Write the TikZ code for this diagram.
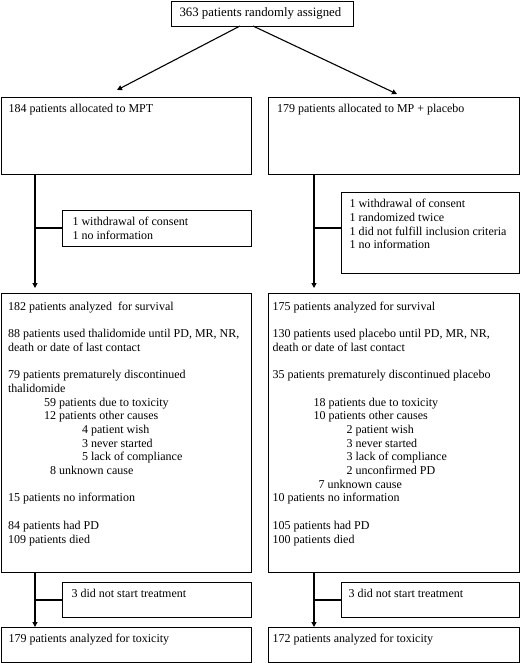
\documentclass[tikz,border=0pt]{standalone}
\usepackage{fontspec}
\setmainfont{Liberation Serif}
\usetikzlibrary{arrows.meta}
\newcommand{\boxtext}[5][5.5pt]{\parbox[t][#3][t]{#2}{\vspace*{#1}\noindent\hspace*{#4}\begin{tabular}[t]{@{}l@{}}#5\end{tabular}}}
\begin{document}
\begin{tikzpicture}[x=1pt,y=-1pt,
  bx/.style={draw,line width=1.1pt,inner sep=0pt,anchor=north west,font=\fontsize{12}{13.7}\selectfont},
  arr/.style={line width=1.1pt,-{Triangle[length=5pt,width=5pt]}},
  ln/.style={line width=1.1pt}]
\useasboundingbox (0,0) rectangle (520,663);
% boxes
\node[bx,font=\fontsize{12.8}{14}\selectfont] (top) at (171,1) {\boxtext[5pt]{182pt}{25pt}{8pt}{363 patients randomly assigned}};
\node[bx] (L1) at (1,97) {\boxtext{250pt}{77pt}{7pt}{184 patients allocated to MPT}};
\node[bx] (R1) at (268,97) {\boxtext{251pt}{77pt}{8.5pt}{179 patients allocated to MP + placebo}};
\node[bx] (LX) at (62,210) {\boxtext{189pt}{36pt}{10pt}{1 withdrawal of consent\\1 no information}};
\node[bx] (RX) at (341,192) {\boxtext{178pt}{81pt}{8pt}{1 withdrawal of consent\\1 randomized twice\\1 did not fulfill inclusion criteria\\1 no information}};
\node[bx] (L2) at (1,293) {\boxtext[7pt]{250pt}{279pt}{6.5pt}{%
182 patients analyzed\ \ for survival\\
\\
88 patients used thalidomide until PD, MR, NR,\\
death or date of last contact\\
\\
79 patients prematurely discontinued\\
thalidomide\\
\hspace*{36pt}59 patients due to toxicity\\
\hspace*{36pt}12 patients other causes\\
\hspace*{74pt}4 patient wish\\
\hspace*{74pt}3 never started\\
\hspace*{74pt}5 lack of compliance\\
\hspace*{42pt}8 unknown cause\\
\\
15 patients no information\\
\\
84 patients had PD\\
109 patients died}};
\node[bx] (R2) at (268,293) {\boxtext[7pt]{251pt}{279pt}{4pt}{%
175 patients analyzed for survival\\
\\
130 patients used placebo until PD, MR, NR,\\
death or date of last contact\\
\\
35 patients prematurely discontinued placebo\\
\\
\hspace*{41pt}18 patients due to toxicity\\
\hspace*{41pt}10 patients other causes\\
\hspace*{74pt}2 patient wish\\
\hspace*{74pt}3 never started\\
\hspace*{74pt}3 lack of compliance\\
\hspace*{74pt}2 unconfirmed PD\\
\hspace*{46pt}7 unknown cause\\
10 patients no information\\
\\
105 patients had PD\\
100 patients died}};
\node[bx] (LX2) at (62,582) {\boxtext{189pt}{35pt}{9pt}{3 did not start treatment}};
\node[bx] (RX2) at (341,582) {\boxtext{178pt}{35pt}{7pt}{3 did not start treatment}};
\node[bx] (L3) at (1,627) {\boxtext{250pt}{35pt}{7pt}{179 patients analyzed for toxicity}};
\node[bx] (R3) at (268,627) {\boxtext{251pt}{35pt}{4pt}{172 patients analyzed for toxicity}};
% connector points
\coordinate (sL) at (240,26);
\coordinate (sR) at (253,26);
\coordinate (eL) at (117,90);
\coordinate (eR) at (397,94);
\coordinate (xl) at (35,0);
\coordinate (xr) at (314,0);
\coordinate (b1) at (35,228);
\coordinate (b2) at (314,228);
\coordinate (b3) at (35,600);
\coordinate (b4) at (314,600);
% connectors
\draw[arr] (sL) -- (eL);
\draw[arr] (sR) -- (eR);
\draw[arr,shorten >=5pt] (L1.south -| xl) -- (L2.north -| xl);
\draw[arr,shorten >=5pt] (R1.south -| xr) -- (R2.north -| xr);
\draw[ln] (b1) -- (b1 -| LX.west);
\draw[ln] (b2) -- (b2 -| RX.west);
\draw[arr] (L2.south -| xl) -- (L3.north -| xl);
\draw[arr] (R2.south -| xr) -- (R3.north -| xr);
\draw[ln] (b3) -- (b3 -| LX2.west);
\draw[ln] (b4) -- (b4 -| RX2.west);
\end{tikzpicture}
\end{document}
